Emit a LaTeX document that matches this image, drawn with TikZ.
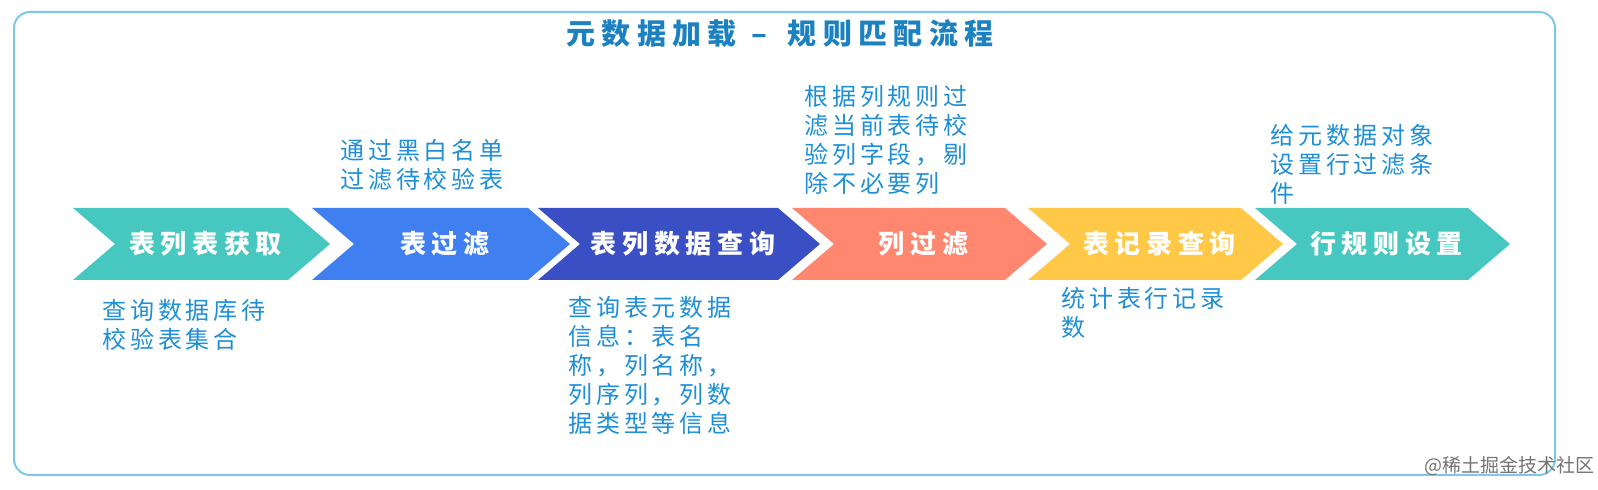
\documentclass[tikz,border=0pt]{standalone}
\usepackage{fontspec}
\usepackage{tikz}
\newfontfamily\cjk[LetterSpace=16]{Noto Sans CJK SC}
\newfontfamily\cjkwide[LetterSpace=22]{Noto Sans CJK SC}
\newfontfamily\cjkplain{Noto Sans CJK SC}
\definecolor{cteal}{HTML}{46C8C0}
\definecolor{cblue}{HTML}{3F7FF0}
\definecolor{cnavy}{HTML}{3B4FC4}
\definecolor{csalmon}{HTML}{FF8770}
\definecolor{cyellow}{HTML}{FFC847}
\definecolor{ctext}{HTML}{1E8FD6}
\definecolor{cframe}{HTML}{7CC8EC}
\def\tipw{42}
\def\ytop{208}
\def\ybot{280}
\def\ymid{244}
\tikzset{
  steplbl/.style={text=white, inner sep=0pt, font=\cjkwide\bfseries\fontsize{13}{15}\selectfont},
  desc/.style={text=ctext, inner sep=0pt, anchor=north west, align=left, font=\cjk\fontsize{12}{14.5}\selectfont},
  title/.style={text=ctext!90!black, inner sep=0pt, font=\cjkwide\bfseries\fontsize{14.5}{16}\selectfont},
  wm/.style={text=black!55, inner sep=0pt, anchor=east, font=\cjkplain\fontsize{9.5}{11}\selectfont}
}

\begin{document}
\begin{tikzpicture}[x=0.5pt, y=-0.5pt]
\useasboundingbox (0,0) rectangle (1598,490);
\draw[cframe, line width=1pt, rounded corners=8pt] (14,12) rectangle (1555,475);

\node[title] (title) at (780,34) {元数据加载\hspace{0.5em}–\hspace{0.7em}规则匹配流程};

\foreach \a/\b/\col/\n/\t in {73/288/cteal/s1/表列表获取, 312/528/cblue/s2/表过滤,
  538/778/cnavy/s3/表列数据查询, 792/1005/csalmon/s4/列过滤,
  1028/1241/cyellow/s5/表记录查询, 1255/1468/cteal/s6/行规则设置}{
	\fill[\col] (\a,\ytop) -- (\b,\ytop) -- (\b+\tipw,\ymid) -- (\b,\ybot) -- (\a,\ybot) -- (\a+\tipw,\ymid) -- cycle;
	\node[steplbl] (\n) at ({(\a+\tipw+\b)/2+4},\ymid) {\t};
}

\node[desc] (d1) at (102,299) {查询数据库待\\校验表集合};
\node[desc] (d2) at (340,139) {通过黑白名单\\过滤待校验表};
\node[desc] (d3) at (568,296) {查询表元数据\\信息：表名\\称，列名称，\\列序列，列数\\据类型等信息};
\node[desc] (d4) at (804,85) {根据列规则过\\滤当前表待校\\验列字段，剔\\除不必要列};
\node[desc] (d5) at (1061,287) {统计表行记录\\数};
\node[desc] (d6) at (1270,124) {给元数据对象\\设置行过滤条\\件};

\node[wm] (wm) at (1595,466) {@稀土掘金技术社区};
\end{tikzpicture}
\end{document}
